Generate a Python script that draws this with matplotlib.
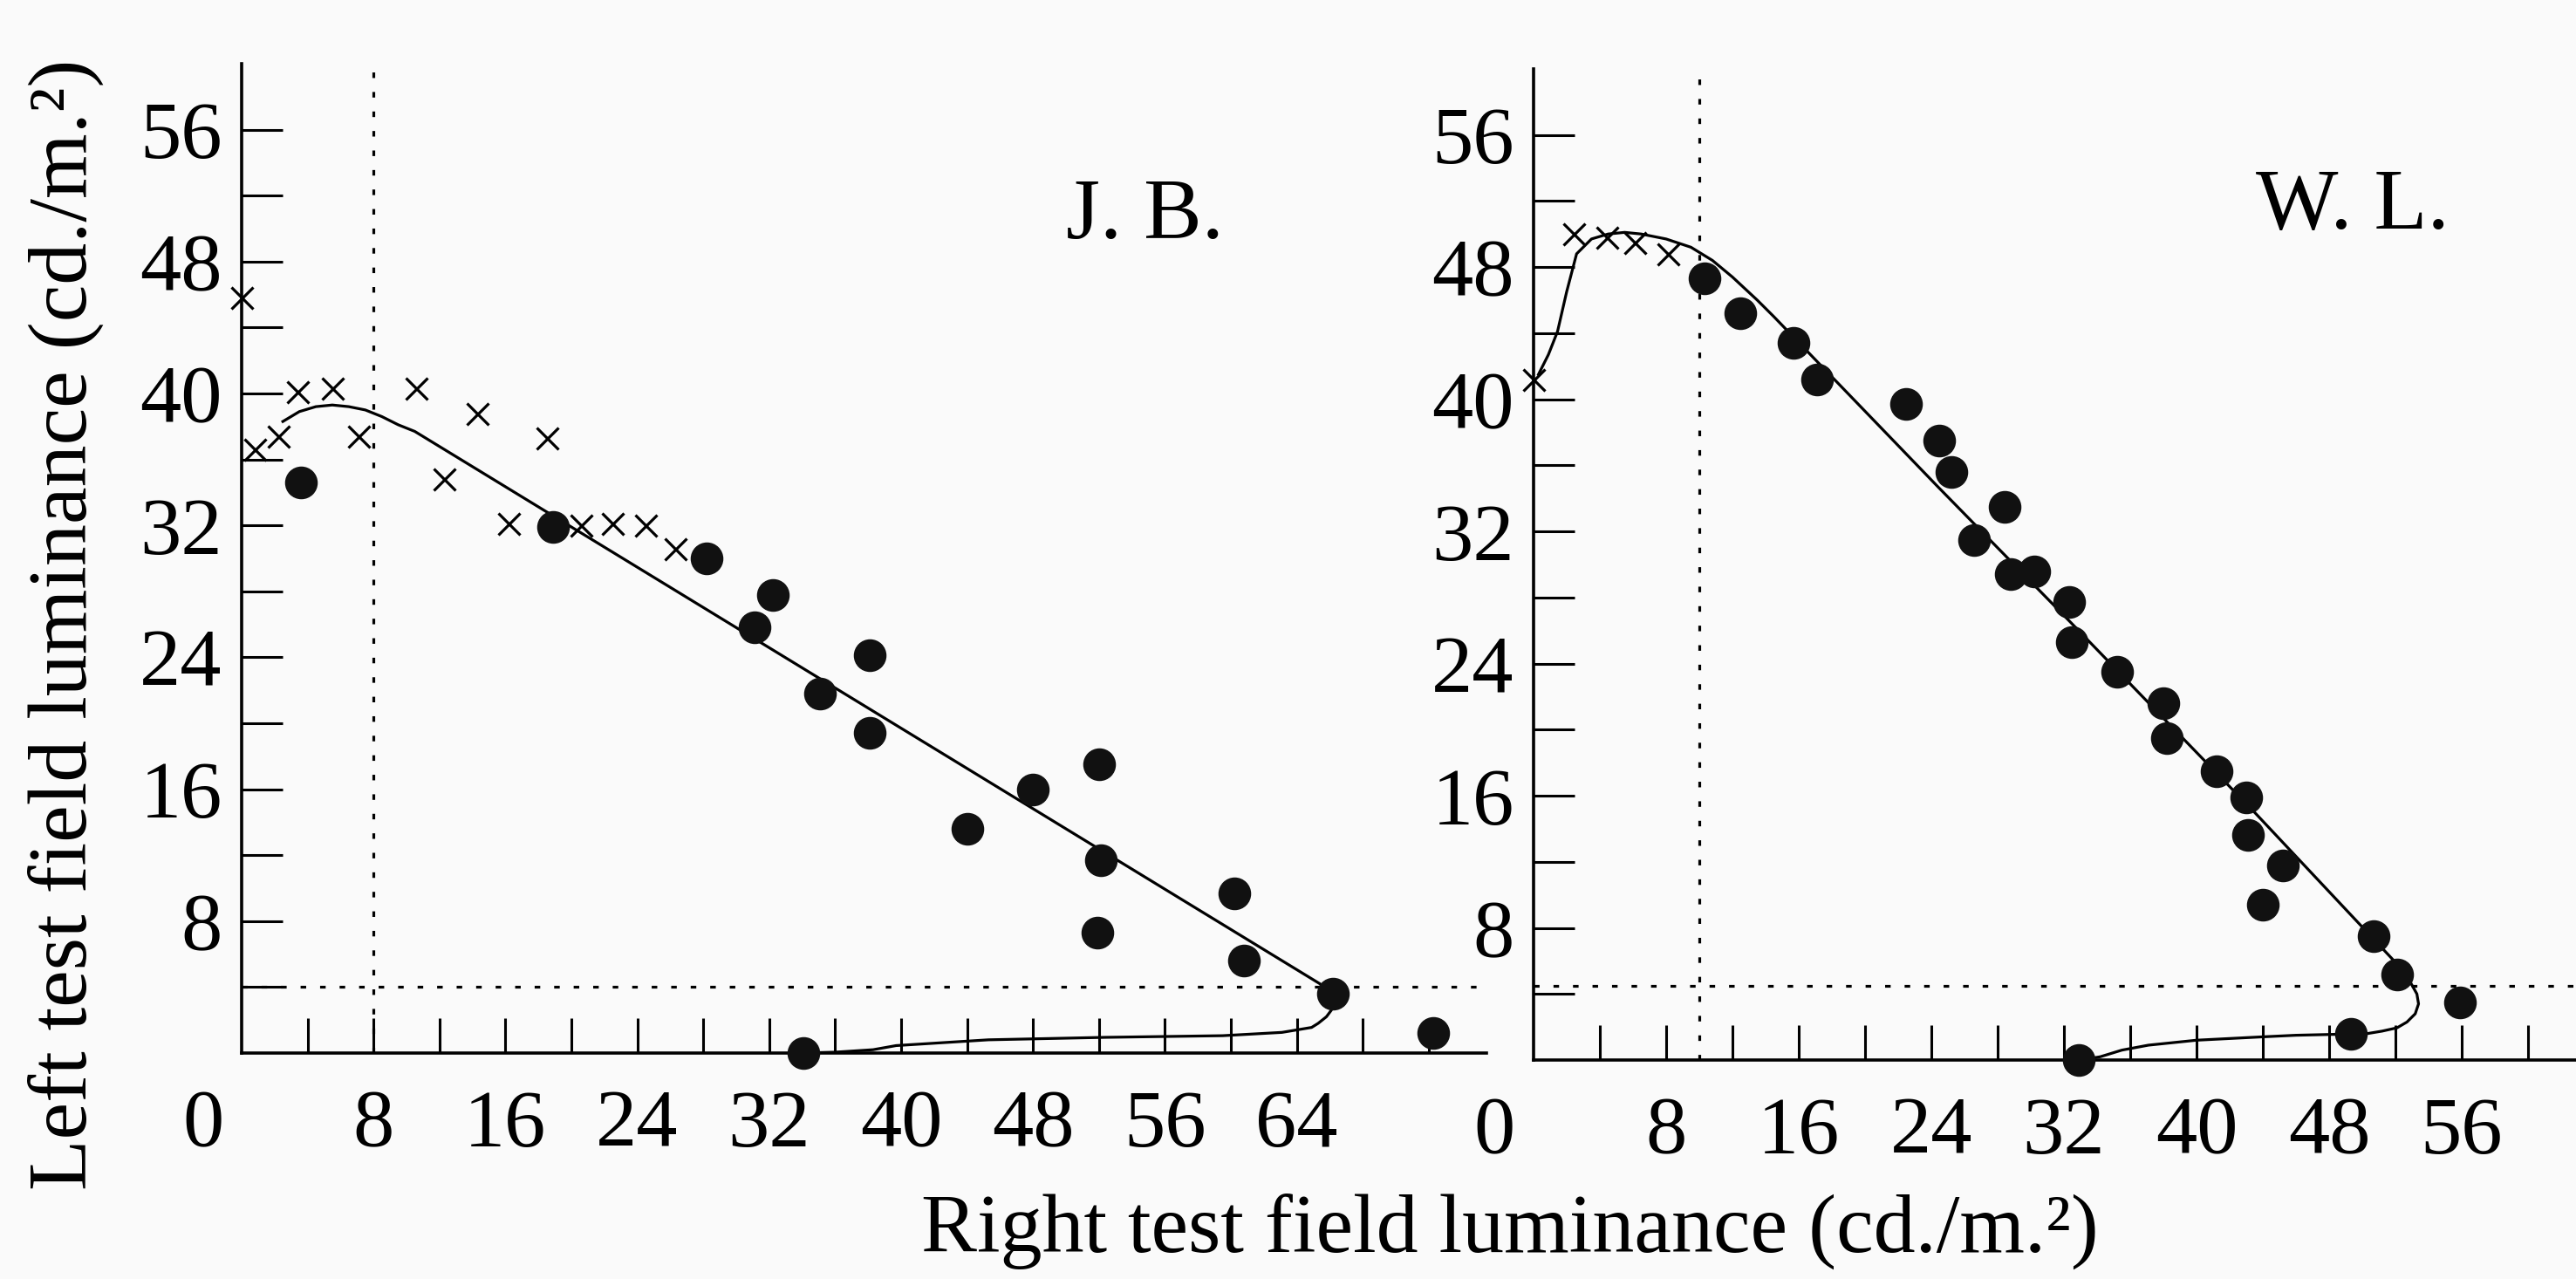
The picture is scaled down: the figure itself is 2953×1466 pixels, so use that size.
import matplotlib
matplotlib.use("Agg")
import matplotlib.pyplot as plt
import numpy as np

# --- DATA ---
# J.B. panel
jb_cross_x = [0.0, 0.8, 2.2, 3.4, 5.5, 7.1, 10.6, 12.3, 14.3, 16.2, 18.5, 20.6, 22.5, 24.5, 26.3]
jb_cross_y = [45.8, 36.6, 37.4, 40.1, 40.3, 37.4, 40.3, 34.8, 38.8, 32.1, 37.3, 32.0, 32.1, 32.0, 30.6]
jb_dot_x = [3.6, 18.9, 28.2, 32.2, 31.1, 35.1, 38.1, 38.1, 34.1, 44.0, 48.0, 52.0, 52.1, 51.9,
            60.2, 60.8, 66.2, 72.3]
jb_dot_y = [34.6, 31.9, 30.0, 27.8, 25.8, 21.8, 24.1, 19.4, 0.0, 13.6, 16.0, 17.5, 11.7, 7.3,
            9.7, 5.6, 3.6, 1.2]
jb_curve_x = [2.5, 3.5, 4.5, 5.5, 6.5, 7.5, 8.5, 9.5, 10.5, 65.4, 65.9, 66.2, 66.1, 65.8,
              65.3, 64.9, 63.1, 59.5, 52.4, 45.3, 39.7, 38.3, 36.0, 34.1]
jb_curve_y = [38.3, 38.9, 39.2, 39.3, 39.2, 39.0, 38.6, 38.1, 37.7, 4.2, 3.8, 3.2, 2.6, 2.2,
              1.8, 1.55, 1.25, 1.05, 0.95, 0.8, 0.45, 0.2, 0.05, 0.0]
jb_vline = 8
jb_hline = 4

# W.L. panel
wl_cross_x = [0.0, 2.4, 4.4, 6.1, 8.1]
wl_cross_y = [41.2, 50.0, 49.8, 49.5, 48.8]
wl_dot_x = [10.3, 12.5, 15.7, 17.1, 22.5, 24.5, 25.2, 28.4, 26.6, 28.8, 30.2, 32.3, 32.5, 35.2,
            38.0, 38.2, 41.2, 43.0, 43.1, 45.2, 44.0, 50.7, 52.1, 55.9, 49.3, 32.9]
wl_dot_y = [47.3, 45.2, 43.4, 41.2, 39.7, 37.5, 35.6, 33.5, 31.5, 29.4, 29.6, 27.7, 25.3, 23.5,
            21.6, 19.5, 17.5, 15.9, 13.6, 11.8, 9.4, 7.5, 5.2, 3.5, 1.6, 0.0]
wl_curve_x = [0.3, 0.9, 1.45, 2.0, 2.6, 3.5, 4.5, 5.5, 6.5, 8.0, 9.5, 10.8, 12.0, 13.5, 14.5,
              24.4, 32.5, 43.5, 52.3, 52.8, 53.3, 53.4, 53.2, 52.7, 52.1, 51.2, 50.3, 46.0,
              43.9, 40.0, 37.1, 35.5, 34.2, 33.0]
wl_curve_y = [41.5, 42.7, 44.1, 46.5, 48.8, 49.7, 50.0, 50.1, 50.0, 49.7, 49.2, 48.4, 47.4,
              46.0, 45.0, 34.7, 26.4, 15.0, 5.6, 4.9, 4.0, 3.4, 2.8, 2.3, 1.95, 1.75, 1.6, 1.5,
              1.4, 1.2, 0.9, 0.6, 0.2, 0.0]
wl_vline = 10
wl_hline = 4.5

x_ticks_jb = list(range(4, 73, 4))
x_labels_jb = [8, 16, 24, 32, 40, 48, 56, 64]
x_ticks_wl = list(range(4, 61, 4))
x_labels_wl = [8, 16, 24, 32, 40, 48, 56]
y_ticks = list(range(4, 57, 4))
y_labels = [8, 16, 24, 32, 40, 48, 56]

FONT = "Liberation Serif"
plt.rcParams["font.family"] = [FONT, "DejaVu Serif"]

fig = plt.figure(figsize=(29.53, 14.66), dpi=100)
fig.patch.set_facecolor("#fafafa")

ax1 = fig.add_axes([0.0938, 0.1767, 0.4832, 0.7735])
ax2 = fig.add_axes([0.5953, 0.1712, 0.4047, 0.7750])

TICKFS = 68
LW = 2.3
DOT = dict(linestyle=(0, (2, 5)), color="black", lw=2.3)


def style(ax, xmax, xticks, xlabels, name, name_xy, vline, hline, curve, crosses, dots):
    ax.set_facecolor("none")
    ax.set_xlim(0, xmax)
    ax.set_ylim(0, 60)
    for s in ("top", "right"):
        ax.spines[s].set_visible(False)
    for s in ("left", "bottom"):
        ax.spines[s].set_linewidth(2.6)

    ax.set_xticks(xticks)
    ax.set_xticklabels([str(t) if t in xlabels else "" for t in xticks])
    ax.set_yticks(y_ticks)
    ax.set_yticklabels([str(t) if t in y_labels else "" for t in y_ticks])
    ax.tick_params(axis="x", direction="in", length=29, width=2.2, pad=30, labelsize=TICKFS)
    ax.tick_params(axis="y", direction="in", length=34, width=2.2, pad=16, labelsize=TICKFS)
    ax.annotate("0", xy=(0, 0), xycoords="data", xytext=(-32, -30), textcoords="offset points",
                ha="center", va="top", fontsize=TICKFS)

    ax.plot([vline, vline], [0, 60], **DOT)
    ax.plot([0, xmax], [hline, hline], **DOT)

    ax.plot(curve[0], curve[1], color="black", lw=LW, clip_on=False, zorder=3)
    ax.plot(crosses[0], crosses[1], linestyle="none", marker="x", ms=18, mew=2.3,
            color="black", clip_on=False, zorder=4)
    ax.plot(dots[0], dots[1], linestyle="none", marker="o", ms=26, color="#111111",
            clip_on=False, zorder=5)
    ax.text(name_xy[0], name_xy[1], name, ha="center", va="center", fontsize=72)


style(ax1, 75.5, x_ticks_jb, x_labels_jb, "J. B.", (54.8, 50.7), jb_vline, jb_hline,
      (jb_curve_x, jb_curve_y), (jb_cross_x, jb_cross_y), (jb_dot_x, jb_dot_y))
style(ax2, 62.9, x_ticks_wl, x_labels_wl, "W. L.", (49.4, 51.6), wl_vline, wl_hline,
      (wl_curve_x, wl_curve_y), (wl_cross_x, wl_cross_y), (wl_dot_x, wl_dot_y))

fig.text(0.0254, 0.512, "Left test field luminance (cd./m.²)", rotation=90,
         ha="center", va="center", fontsize=69)
fig.text(0.586, 0.037, "Right test field luminance (cd./m.²)", ha="center", va="center",
         fontsize=69)

fig.savefig("out.png", dpi=100, facecolor=fig.get_facecolor())
